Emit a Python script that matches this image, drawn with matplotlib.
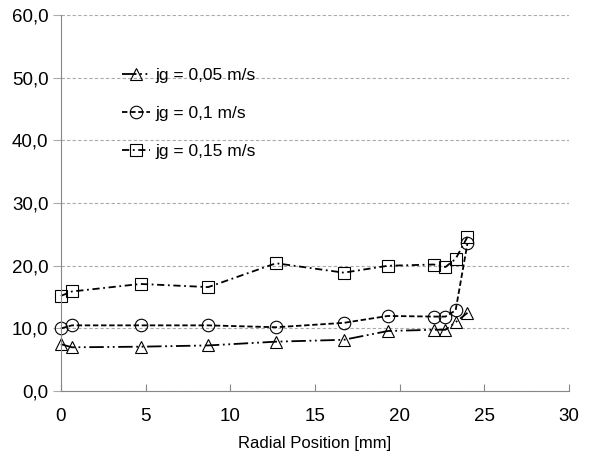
import matplotlib.pyplot as plt
from matplotlib.ticker import FuncFormatter

# radial positions [mm]
radial_pos = [0, 0.65, 4.7, 8.7, 12.7, 16.7, 19.3, 22.0, 22.7, 23.3, 24.0]

jg_005 = [7.5, 7.0, 7.1, 7.3, 7.9, 8.2, 9.6, 9.8, 9.8, 11.0, 12.5]
jg_01 = [10.0, 10.5, 10.5, 10.5, 10.2, 10.9, 12.0, 11.9, 11.9, 12.9, 23.6]
jg_015 = [15.2, 15.9, 17.1, 16.6, 20.4, 18.9, 20.0, 20.2, 19.8, 21.1, 24.6]

labels = ["jg = 0,05 m/s", "jg = 0,1 m/s", "jg = 0,15 m/s"]

plt.rcParams["font.family"] = ["Liberation Sans", "DejaVu Sans"]

fig = plt.figure(figsize=(5.91, 4.63), dpi=100)
ax = fig.add_axes([0.103, 0.155, 0.860, 0.813])

mk = dict(markerfacecolor="none", markeredgecolor="black", markersize=9,
          markeredgewidth=0.8, color="black", linewidth=1.3, clip_on=False)
ax.plot(radial_pos, jg_005, marker="^", dashes=[8, 2, 1, 2, 1, 2], label=labels[0], **mk)
ax.plot(radial_pos, jg_01, marker="o", dashes=[3, 1.5], label=labels[1], **mk)
ax.plot(radial_pos, jg_015, marker="s", dashes=[4, 2, 1, 2], label=labels[2], **mk)

ax.set_xlim(0, 30)
ax.set_ylim(0, 60)
ax.set_xticks(range(0, 31, 5))
ax.set_yticks(range(0, 61, 10))
ax.yaxis.set_major_formatter(FuncFormatter(lambda v, p: f"{v:.1f}".replace(".", ",")))
ax.grid(axis="y", color="#aaaaaa", linestyle=(0, (3, 2)), linewidth=0.8)
ax.set_axisbelow(True)

for s in ["top", "right"]:
    ax.spines[s].set_visible(False)
for s in ["left", "bottom"]:
    ax.spines[s].set_color("#888888")
ax.tick_params(axis="x", direction="in", length=5, color="#888888", labelsize=13.5, pad=12)
ax.tick_params(axis="y", direction="out", length=6, color="#aaaaaa", labelsize=13.5, pad=3)

ax.set_xlabel("Radial Position [mm]", fontsize=12, labelpad=8)

ax.legend(loc="upper left", bbox_to_anchor=(0.09, 0.9), frameon=False,
          handlelength=1.6, handletextpad=0.3, labelspacing=1.3, fontsize=12.5)

fig.savefig("out.png", dpi=100)
